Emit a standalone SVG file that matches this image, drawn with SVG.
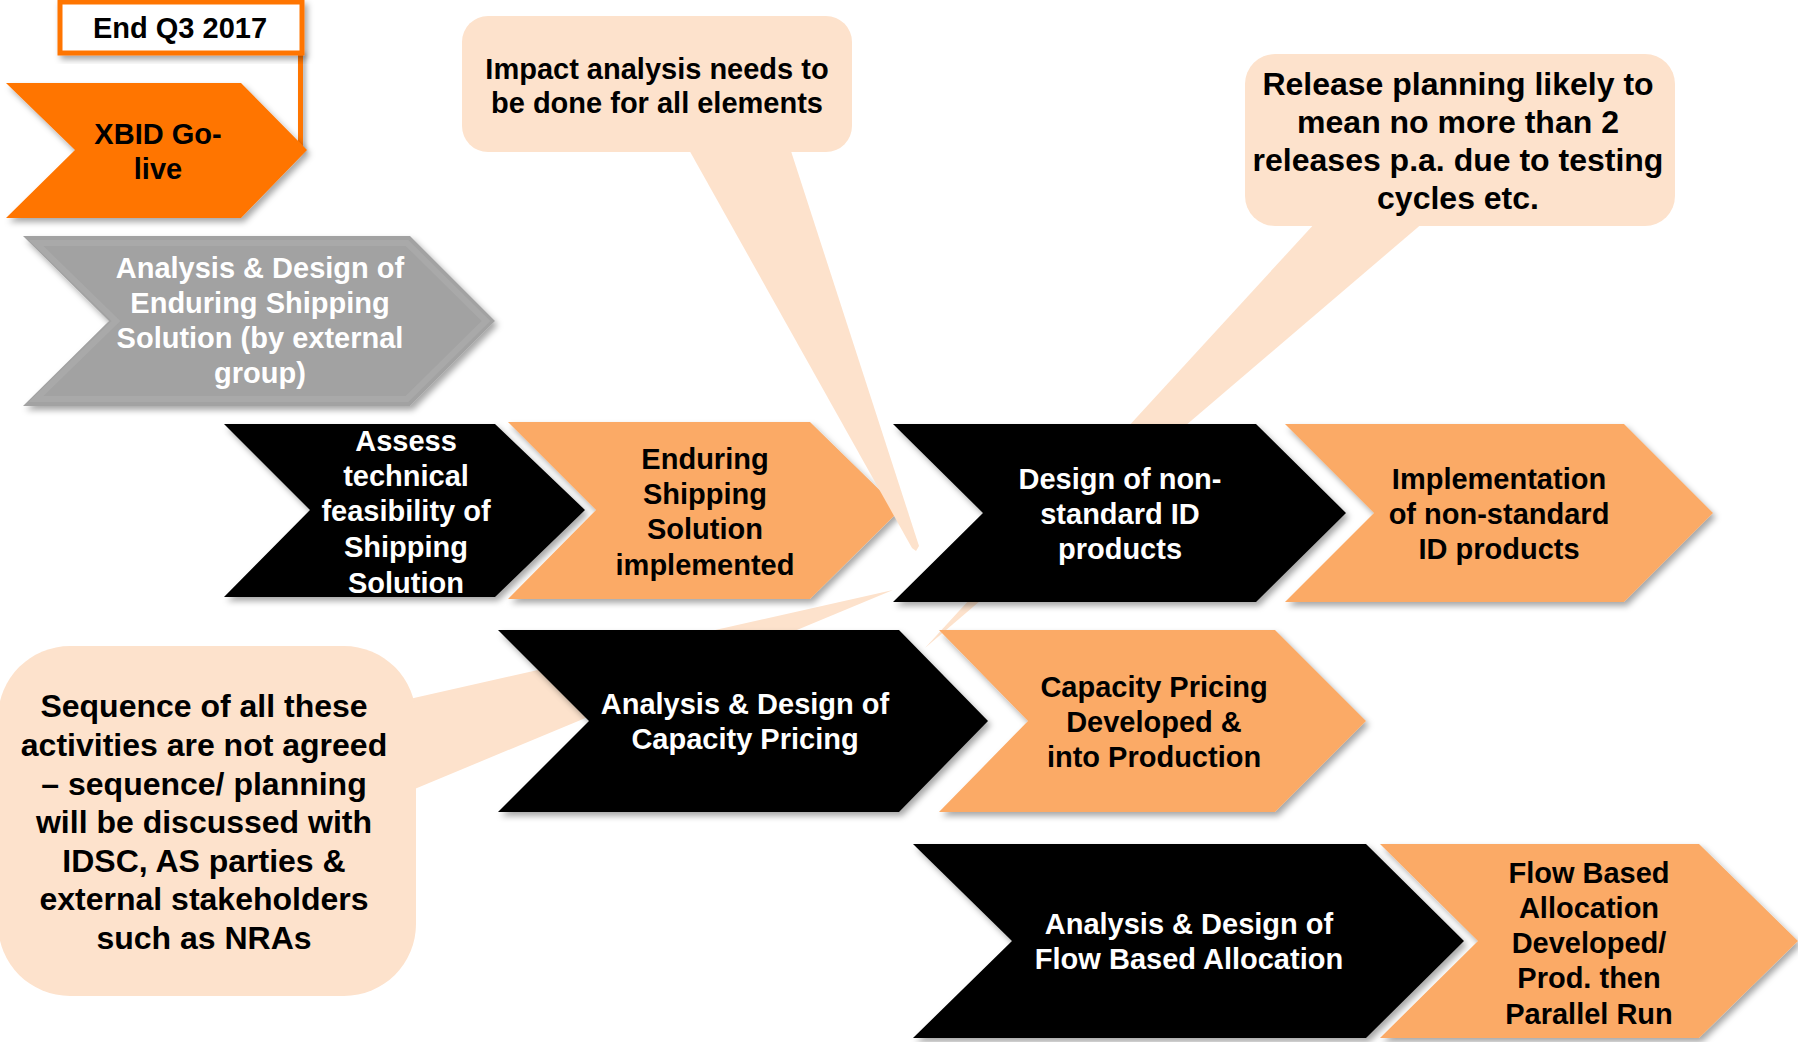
<svg xmlns="http://www.w3.org/2000/svg" width="1798" height="1042" viewBox="0 0 1798 1042">
<defs>
<filter id="sh" x="-10%" y="-10%" width="125%" height="130%">
<feDropShadow dx="3" dy="4" stdDeviation="3" flood-color="#000" flood-opacity="0.35"/>
</filter>
<filter id="shu" filterUnits="userSpaceOnUse" x="280" y="40" width="40" height="130">
<feDropShadow dx="3" dy="3" stdDeviation="2" flood-color="#000" flood-opacity="0.3"/>
</filter>
<style>
text{font-family:"Liberation Sans",Arial,sans-serif;font-weight:bold;text-anchor:middle;}
.t29{font-size:29px;}
.t32{font-size:32px;}
.w{fill:#FFFFFF;}
.k{fill:#000000;}
.blk{fill:#000000;filter:url(#sh);}
.org{fill:#FBAA66;filter:url(#sh);}
.xb{fill:#FF7500;filter:url(#sh);}
.gry{fill:#A2A2A2;filter:url(#sh);}
.call{fill:#FDE2CC;}
</style>
</defs>
<rect width="1798" height="1042" fill="#FFFFFF"/>

<!-- callouts behind -->
<g id="callout-release">
<polygon class="call" points="1316,222 1424,222 925,648"/>
<rect class="call" x="1245" y="54" width="430" height="172" rx="30"/>
<text class="t32 k" x="1458" y="95">Release planning likely to</text>
<text class="t32 k" x="1458" y="133">mean no more than 2</text>
<text class="t32 k" x="1458" y="171">releases p.a. due to testing</text>
<text class="t32 k" x="1458" y="209">cycles etc.</text>
</g>
<g id="callout-sequence">
<polygon class="call" points="405,700 405,793 893,590"/>
<rect class="call" x="-2" y="646" width="418" height="350" rx="72"/>
<text class="t32 k" x="204" y="717">Sequence of all these</text>
<text class="t32 k" x="204" y="756">activities are not agreed</text>
<text class="t32 k" x="204" y="795">– sequence/ planning</text>
<text class="t32 k" x="204" y="833">will be discussed with</text>
<text class="t32 k" x="204" y="872">IDSC, AS parties &amp;</text>
<text class="t32 k" x="204" y="910">external stakeholders</text>
<text class="t32 k" x="204" y="949">such as NRAs</text>
</g>

<g id="connectors">
<rect x="298" y="50" width="5" height="100" fill="#FF7500" filter="url(#shu)"/>
</g>

<g id="end-q3">
<rect x="60" y="2" width="242" height="51" fill="#FFFFFF" stroke="#FF7500" stroke-width="5" filter="url(#sh)"/>
<text class="t29 k" x="180" y="38">End Q3 2017</text>
</g>

<g id="xbid">
<polygon class="xb" points="6,83 241,83 307,150 241,218 6,218 75,150"/>
<text class="t29 k" x="158" y="144">XBID Go-</text>
<text class="t29 k" x="158" y="179">live</text>
</g>

<g id="analysis-shipping">
<polygon class="gry" points="23,236 410,236 495,321 410,406 23,406 109,321"/>
<polygon points="36,243 407,243 486,321 407,399 36,399 116,321" fill="none" stroke="#A9A9A9" stroke-width="6"/>
<text class="t29 w" x="260" y="278">Analysis &amp; Design of</text>
<text class="t29 w" x="260" y="313">Enduring Shipping</text>
<text class="t29 w" x="260" y="348">Solution (by external</text>
<text class="t29 w" x="260" y="383">group)</text>
</g>

<g id="assess">
<polygon class="blk" points="224,424 495,424 585,510 495,597 224,597 310,510"/>
<text class="t29 w" x="406" y="451">Assess</text>
<text class="t29 w" x="406" y="486">technical</text>
<text class="t29 w" x="406" y="521">feasibility of</text>
<text class="t29 w" x="406" y="557">Shipping</text>
<text class="t29 w" x="406" y="593">Solution</text>
</g>

<g id="enduring">
<polygon class="org" points="508,422 810,422 900,510 810,599 508,599 596,510"/>
<text class="t29 k" x="705" y="469">Enduring</text>
<text class="t29 k" x="705" y="504">Shipping</text>
<text class="t29 k" x="705" y="539">Solution</text>
<text class="t29 k" x="705" y="575">implemented</text>
</g>

<g id="design-nonstd">
<polygon class="blk" points="893,424 1256,424 1346,513 1256,602 893,602 983,513"/>
<text class="t29 w" x="1120" y="489">Design of non-</text>
<text class="t29 w" x="1120" y="524">standard ID</text>
<text class="t29 w" x="1120" y="559">products</text>
</g>

<g id="impl-nonstd">
<polygon class="org" points="1285,424 1624,424 1713,513 1624,602 1285,602 1374,513"/>
<text class="t29 k" x="1499" y="489">Implementation</text>
<text class="t29 k" x="1499" y="524">of non-standard</text>
<text class="t29 k" x="1499" y="559">ID products</text>
</g>

<g id="analysis-capacity">
<polygon class="blk" points="498,630 899,630 988,721 899,812 498,812 589,721"/>
<text class="t29 w" x="745" y="714">Analysis &amp; Design of</text>
<text class="t29 w" x="745" y="749">Capacity Pricing</text>
</g>

<g id="capacity-dev">
<polygon class="org" points="939,630 1275,630 1366,721 1275,812 939,812 1028,721"/>
<text class="t29 k" x="1154" y="697">Capacity Pricing</text>
<text class="t29 k" x="1154" y="732">Developed &amp;</text>
<text class="t29 k" x="1154" y="767">into Production</text>
</g>

<g id="analysis-flow">
<polygon class="blk" points="913,844 1366,844 1464,941 1366,1038 913,1038 1012,941"/>
<text class="t29 w" x="1189" y="934">Analysis &amp; Design of</text>
<text class="t29 w" x="1189" y="969">Flow Based Allocation</text>
</g>

<g id="flow-dev">
<polygon class="org" points="1380,844 1699,844 1798,941 1699,1038 1380,1038 1478,941"/>
<text class="t29 k" x="1589" y="883">Flow Based</text>
<text class="t29 k" x="1589" y="918">Allocation</text>
<text class="t29 k" x="1589" y="953">Developed/</text>
<text class="t29 k" x="1589" y="988">Prod. then</text>
<text class="t29 k" x="1589" y="1024">Parallel Run</text>
</g>

<g id="callout-impact">
<polygon class="call" points="688,148 790,148 919,546 916,551 912,548"/>
<rect class="call" x="462" y="16" width="390" height="136" rx="26"/>
<text class="t29 k" x="657" y="79">Impact analysis needs to</text>
<text class="t29 k" x="657" y="113">be done for all elements</text>
</g>
</svg>
